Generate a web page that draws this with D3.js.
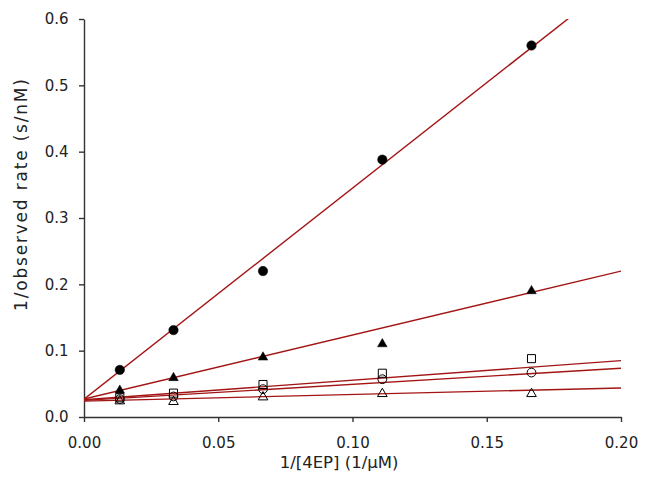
<!DOCTYPE html>
<html>
<head>
<meta charset="utf-8">
<script src="https://cdn.jsdelivr.net/npm/d3@7"></script>
<style>
  body { margin: 0; background: #fff; }
  svg text { font-family: "DejaVu Sans", sans-serif; fill: #222; }
</style>
</head>
<body>
<script>
// x values: 1/[4EP]
const xValues = [1 / 75, 1 / 30, 1 / 15, 1 / 9, 1 / 6];

// measured series
const filledCircles = [0.071, 0.131, 0.220, 0.388, 0.560];
const filledTriangles = [0.040, 0.059, 0.090, 0.110, 0.190];
const openSquares = [0.029, 0.036, 0.049, 0.066, 0.088];
const openCircles = [0.027, 0.031, 0.042, 0.057, 0.067];
const openTriangles = [0.024, 0.023, 0.030, 0.035, 0.035];

// fitted lines: intercept and slope
const fitIntercepts = [0.027, 0.027, 0.026, 0.025, 0.024];
const fitSlopes = [3.18, 0.965, 0.295, 0.243, 0.099];

const xTicks = [0, 0.05, 0.10, 0.15, 0.20];
const yTicks = [0, 0.1, 0.2, 0.3, 0.4, 0.5, 0.6];

const width = 650, height = 495;
const margin = { top: 19, right: 29, bottom: 78, left: 84 };

const svg = d3.select("body").append("svg")
  .attr("width", width)
  .attr("height", height);

const x = d3.scaleLinear().domain([0, 0.2]).range([margin.left, width - margin.right]);
const y = d3.scaleLinear().domain([0, 0.6]).range([height - margin.bottom, margin.top]);

// clip lines to plot area
svg.append("clipPath").attr("id", "plot")
  .append("rect")
  .attr("x", margin.left).attr("y", margin.top)
  .attr("width", width - margin.left - margin.right)
  .attr("height", height - margin.top - margin.bottom);

// Axes
const xAxis = svg.append("g")
  .attr("transform", `translate(0, ${height - margin.bottom})`)
  .call(d3.axisBottom(x).tickValues(xTicks).tickFormat(d3.format(".2f")).tickSize(5).tickSizeOuter(0));
const yAxis = svg.append("g")
  .attr("transform", `translate(${margin.left}, 0)`)
  .call(d3.axisLeft(y).tickValues(yTicks).tickFormat(d3.format(".1f")).tickSize(5).tickSizeOuter(0));

[xAxis, yAxis].forEach(a => {
  a.selectAll("path, line").attr("stroke", "#333").attr("stroke-width", 1.4);
  a.selectAll("text").style("font-size", "15px").attr("fill", "#222");
});
xAxis.selectAll("text").attr("dy", "1.5em");
yAxis.selectAll("text").attr("dx", "-0.5em");

// Fitted lines
const lineGroup = svg.append("g").attr("clip-path", "url(#plot)");
fitSlopes.forEach((s, i) => {
  lineGroup.append("line")
    .attr("x1", x(0)).attr("y1", y(fitIntercepts[i]))
    .attr("x2", x(0.2)).attr("y2", y(fitIntercepts[i] + s * 0.2))
    .attr("stroke", "#a31515")
    .attr("stroke-width", 1.4);
});

// Markers
function drawSeries(values, type, filled) {
  const sym = type === "circle" ? d3.symbolCircle : type === "triangle" ? d3.symbolTriangle : d3.symbolSquare;
  const size = type === "circle" ? (filled ? 70 : 60) : type === "triangle" ? 40 : 65;
  svg.append("g").selectAll("path")
    .data(values)
    .enter()
    .append("path")
    .attr("d", d3.symbol().type(sym).size(size))
    .attr("transform", (d, i) => `translate(${x(xValues[i])}, ${y(d)})`)
    .attr("fill", filled ? "#000" : "#fff")
    .attr("fill-opacity", filled ? 1 : 0)
    .attr("stroke", "#000")
    .attr("stroke-width", filled ? 0.5 : 1);
}

drawSeries(openTriangles, "triangle", false);
drawSeries(openCircles, "circle", false);
drawSeries(openSquares, "square", false);
drawSeries(filledTriangles, "triangle", true);
drawSeries(filledCircles, "circle", true);

// Axis titles
svg.append("text")
  .attr("x", 339)
  .attr("y", 468)
  .attr("text-anchor", "middle")
  .style("font-size", "16.5px")
  .text("1/[4EP] (1/\u03BCM)");

svg.append("text")
  .attr("transform", "translate(27, 195) rotate(-90)")
  .attr("text-anchor", "middle")
  .attr("textLength", 232)
  .attr("lengthAdjust", "spacing")
  .style("font-size", "17px")
  .text("1/observed rate (s/nM)");
</script>
</body>
</html>
